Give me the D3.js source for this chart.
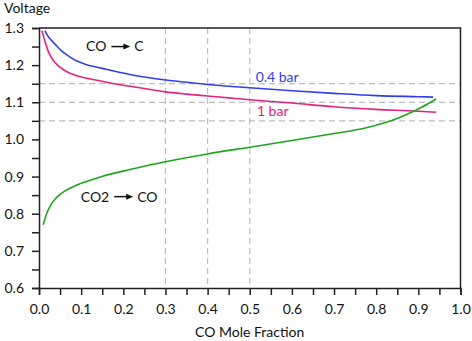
<!DOCTYPE html>
<html>
<head>
<meta charset="utf-8">
<script src="https://cdn.jsdelivr.net/npm/d3@7"></script>
<style>
  body { margin: 0; background: #fff; }
  svg { display: block; font-family: Lato, "Open Sans", sans-serif; }
  .axis path, .axis line { stroke: #222; }
  .axis text { font-size: 14px; fill: #111; font-family: Lato, sans-serif; }
  .grid line { stroke: #b9bfbf; stroke-dasharray: 6 4; stroke-width: 1.2; }
</style>
</head>
<body>
<svg id="chart" width="472" height="341"></svg>
<script>
// CO mole fraction vs voltage
const blueX = [0.014, 0.02, 0.03, 0.04, 0.055, 0.072, 0.09, 0.111, 0.135, 0.159, 0.19, 0.216, 0.25, 0.3, 0.35, 0.4, 0.45, 0.5, 0.6, 0.7, 0.8, 0.9, 0.935];
const blueY = [1.293, 1.280, 1.266, 1.254, 1.237, 1.223, 1.211, 1.202, 1.195, 1.189, 1.181, 1.175, 1.168, 1.160, 1.154, 1.148, 1.143, 1.139, 1.131, 1.124, 1.118, 1.115, 1.114];

const pinkX = [0.007, 0.012, 0.017, 0.022, 0.028, 0.038, 0.048, 0.065, 0.088, 0.11, 0.135, 0.16, 0.183, 0.216, 0.25, 0.3, 0.35, 0.4, 0.45, 0.5, 0.6, 0.7, 0.8, 0.9, 0.942];
const pinkY = [1.293, 1.272, 1.254, 1.237, 1.223, 1.207, 1.196, 1.183, 1.172, 1.1655, 1.160, 1.154, 1.149, 1.143, 1.137, 1.128, 1.122, 1.117, 1.112, 1.107, 1.098, 1.088, 1.081, 1.076, 1.073];

const greenX = [0.010, 0.018, 0.028, 0.038, 0.048, 0.06, 0.072, 0.09, 0.111, 0.151, 0.216, 0.3, 0.4, 0.5, 0.6, 0.7, 0.774, 0.82, 0.853, 0.88, 0.91, 0.942];
const greenY = [0.770, 0.800, 0.824, 0.839, 0.850, 0.860, 0.868, 0.877, 0.886, 0.901, 0.919, 0.940, 0.961, 0.979, 0.997, 1.016, 1.031, 1.045, 1.058, 1.071, 1.088, 1.109];

const xTicks = [0, 0.1, 0.2, 0.3, 0.4, 0.5, 0.6, 0.7, 0.8, 0.9, 1.0];
const yTicks = [0.6, 0.7, 0.8, 0.9, 1.0, 1.1, 1.2, 1.3];
const vGrid = [0.3, 0.4, 0.5];
const hGrid = [1.05, 1.1, 1.15];

const margin = { top: 28, right: 11.5, bottom: 53, left: 39 };
const width = 472 - margin.left - margin.right;
const height = 341 - margin.top - margin.bottom;

const svg = d3.select("#chart");
const g = svg.append("g").attr("transform", `translate(${margin.left},${margin.top})`);

const x = d3.scaleLinear().domain([0, 1]).range([0, width]);
const y = d3.scaleLinear().domain([0.6, 1.3]).range([height, 0]);

// dashed reference lines
g.append("g").attr("class", "grid")
  .selectAll("line").data(vGrid).join("line")
  .attr("x1", d => x(d)).attr("x2", d => x(d))
  .attr("y1", 0).attr("y2", height);
g.append("g").attr("class", "grid")
  .selectAll("line").data(hGrid).join("line")
  .attr("x1", 0).attr("x2", width)
  .attr("y1", d => y(d)).attr("y2", d => y(d));

// minor ticks every 0.05
const minorX = d3.range(0, 21).map(i => i * 0.05);
const minorY = d3.range(0, 15).map(i => 0.6 + i * 0.05);

const xAxis = g.append("g").attr("class", "axis")
  .attr("transform", `translate(0,${height})`)
  .call(d3.axisBottom(x).tickValues(minorX).tickSize(7).tickFormat(""));
xAxis.selectAll("line, path").attr("stroke-width", 1.5);
g.append("g").attr("class", "axis")
  .attr("transform", `translate(0,${height})`)
  .call(d3.axisBottom(x).tickValues(xTicks).tickSize(0).tickPadding(16).tickFormat(d3.format(".1f")))
  .call(a => a.select(".domain").remove());

const yAxis = g.append("g").attr("class", "axis")
  .call(d3.axisLeft(y).tickValues(minorY).tickSize(7).tickFormat(""));
yAxis.selectAll("line, path").attr("stroke-width", 1.5);
g.append("g").attr("class", "axis")
  .call(d3.axisLeft(y).tickValues(yTicks).tickSize(0).tickPadding(15).tickFormat(d3.format(".1f")))
  .call(a => a.select(".domain").remove());

// frame top and right
g.append("path")
  .attr("d", `M0,0H${width}V${height}`)
  .attr("fill", "none").attr("stroke", "#222").attr("stroke-width", 1.5);

const line = d3.line().x(d => x(d[0])).y(d => y(d[1])).curve(d3.curveMonotoneX);
const series = [
  { xs: blueX, ys: blueY, color: "#2f3ff0" },
  { xs: pinkX, ys: pinkY, color: "#e6217f" },
  { xs: greenX, ys: greenY, color: "#1ea51e" }
];
g.selectAll(".curve").data(series).join("path")
  .attr("class", "curve")
  .attr("fill", "none")
  .attr("stroke", d => d.color)
  .attr("stroke-width", 1.6)
  .attr("d", d => line(d.xs.map((v, i) => [v, d.ys[i]])));

// series labels
const labels = [
  { text: "0.4 bar", x: 0.514, y: 1.169, color: "#2f3ff0" },
  { text: "1 bar", x: 0.517, y: 1.075, color: "#e6217f" }
];
g.selectAll(".lbl").data(labels).join("text")
  .attr("x", d => x(d.x)).attr("y", d => y(d.y)).attr("dy", "0.35em")
  .attr("font-size", 14).attr("fill", d => d.color)
  .text(d => d.text);

// reaction annotations with arrows
const reactions = [
  { from: "CO", to: "C", x: 0.1115, y: 1.250 },
  { from: "CO2", to: "CO", x: 0.099, y: 0.846 }
];
reactions.forEach(r => {
  const rg = g.append("g").attr("transform", `translate(${x(r.x)},${y(r.y)})`);
  const t1 = rg.append("text").attr("dy", "0.35em").attr("font-size", 14).attr("fill", "#111").text(r.from);
  const w = t1.node().getComputedTextLength();
  const a0 = w + 5, a1 = a0 + 19;
  rg.append("line").attr("x1", a0).attr("x2", a1 - 5).attr("y1", 0).attr("y2", 0)
    .attr("stroke", "#111").attr("stroke-width", 1.5);
  rg.append("path").attr("d", `M${a1},0L${a1 - 7},-3L${a1 - 7},3Z`).attr("fill", "#111");
  rg.append("text").attr("x", a1 + 4).attr("dy", "0.35em").attr("font-size", 14).attr("fill", "#111").text(r.to);
});

// axis titles
svg.append("text").attr("x", 4).attr("y", 13).attr("font-size", 14).attr("fill", "#111").text("Voltage");
svg.append("text").attr("x", margin.left + width / 2).attr("y", 337)
  .attr("text-anchor", "middle").attr("font-size", 14).attr("fill", "#111").text("CO Mole Fraction");
</script>
</body>
</html>
